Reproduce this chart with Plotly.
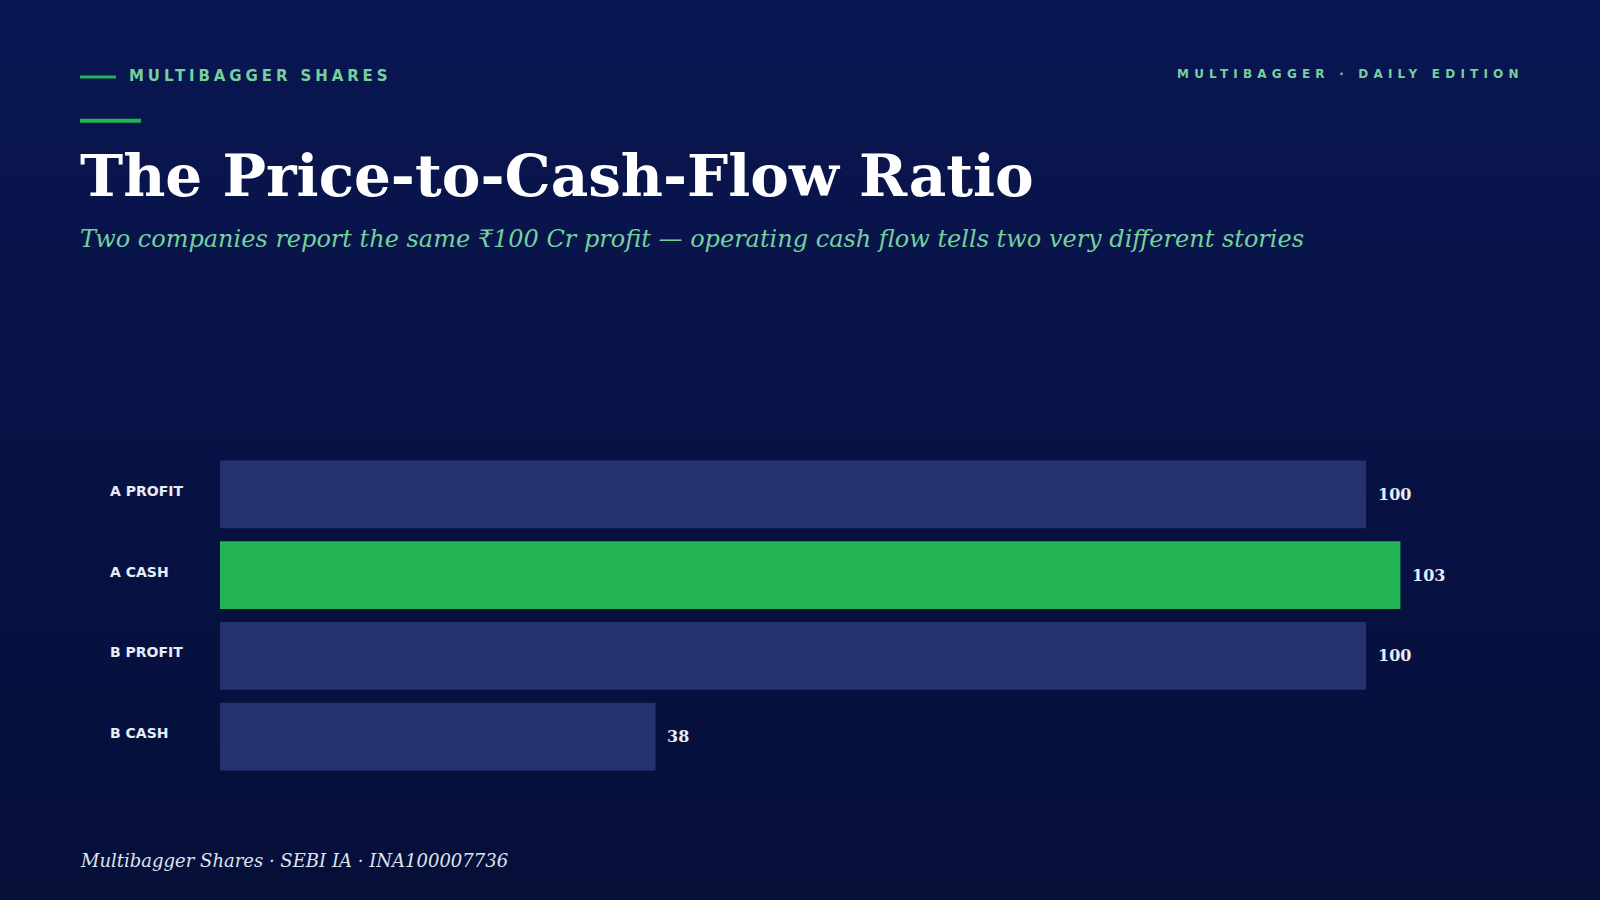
import base64
import plotly.graph_objects as go

# ---- data ----
categories = ["A PROFIT", "A CASH", "B PROFIT", "B CASH"]
values = [100, 103, 100, 38]
highlight = ["A CASH"]

title_text = "The Price-to-Cash-Flow Ratio"
subtitle_text = "Two companies report the same ₹100 Cr profit — operating cash flow tells two very different stories"
kicker_text = "MULTIBAGGER SHARES"
edition_text = "MULTIBAGGER · DAILY EDITION"
footer_text = "Multibagger Shares · SEBI IA · INA100007736"

# ---- styling ----
W, H = 1600, 900
L, R, T, B = 220, 80, 453.5, 122.5
PW, PH = W - L - R, H - T - B

BAR_DARK = "#263170"
BAR_GREEN = "#22b455"
GREEN_TXT = "#74d19c"
WHITE = "#ffffff"
LABEL = "#e8ecf7"


def px(x):
    return (x - L) / PW


def py(y):
    return (H - B - y) / PH


colors = [BAR_GREEN if c in highlight else BAR_DARK for c in categories]

fig = go.Figure()
fig.add_trace(go.Bar(
    x=values, y=categories, orientation="h",
    marker=dict(color=colors, line=dict(width=0)),
    hoverinfo="skip", showlegend=False,
))

annotations = []
# category labels
for c in categories:
    annotations.append(dict(
        x=px(108), xref="paper", y=c, yref="y", xanchor="left", yanchor="middle",
        text=c, showarrow=False, yshift=3.5,
        font=dict(family="DejaVu Sans", size=14, color=LABEL, weight="bold"),
    ))
# value labels
for c, v in zip(categories, values):
    annotations.append(dict(
        x=v, xref="x", y=c, yref="y", xanchor="left", yanchor="middle",
        text=str(v), showarrow=False, xshift=10,
        font=dict(family="DejaVu Serif", size=16, color=LABEL, weight="bold"),
    ))

# header texts
annotations += [
    dict(x=px(127), y=py(74.8), xref="paper", yref="paper", xanchor="left", yanchor="middle",
         align="left", showarrow=False,
         text=f'<span style="letter-spacing:3.9px">{kicker_text}</span>',
         font=dict(family="DejaVu Sans", size=15, color=GREEN_TXT, weight="bold")),
    dict(x=px(1174.5), y=py(72.2), xref="paper", yref="paper", xanchor="left", yanchor="middle",
         align="left", showarrow=False,
         text=f'<span style="letter-spacing:5.2px">{edition_text}</span>',
         font=dict(family="DejaVu Sans", size=12, color=GREEN_TXT, weight="bold")),
    dict(x=px(78), y=py(174.9), xref="paper", yref="paper", xanchor="left", yanchor="middle",
         align="left", showarrow=False, text=title_text,
         font=dict(family="DejaVu Serif", size=58, color=WHITE, weight="bold")),
    dict(x=px(78), y=py(237.8), xref="paper", yref="paper", xanchor="left", yanchor="middle",
         align="left", showarrow=False, text=subtitle_text,
         font=dict(family="DejaVu Serif", size=24, color=GREEN_TXT, style="italic")),
    dict(x=px(78), y=py(861.3), xref="paper", yref="paper", xanchor="left", yanchor="middle",
         align="left", showarrow=False, text=footer_text,
         font=dict(family="DejaVu Serif", size=18, color="#dfe3ef", style="italic")),
]

shapes = [
    dict(type="line", xref="paper", yref="paper", x0=px(80), x1=px(116), y0=py(75.3), y1=py(75.3),
         line=dict(color=BAR_GREEN, width=3)),
    dict(type="line", xref="paper", yref="paper", x0=px(80), x1=px(141), y0=py(119.3), y1=py(119.3),
         line=dict(color=BAR_GREEN, width=4)),
]

svg = (
    '<svg xmlns="http://www.w3.org/2000/svg" width="1600" height="900" preserveAspectRatio="none">'
    '<defs><linearGradient id="g" x1="0" y1="0" x2="0" y2="1">'
    '<stop offset="0" stop-color="#0a1652"/><stop offset="1" stop-color="#050f38"/>'
    '</linearGradient></defs><rect width="1600" height="900" fill="url(#g)"/></svg>'
)
bg_src = "data:image/svg+xml;base64," + base64.b64encode(svg.encode()).decode()

fig.update_layout(
    width=W, height=H,
    margin=dict(l=L, r=R, t=T, b=B, pad=0),
    paper_bgcolor="#0a1652",
    plot_bgcolor="rgba(0,0,0,0)",
    bargap=0.164,
    xaxis=dict(range=[0, PW / 11.46], visible=False, showgrid=False, zeroline=False, fixedrange=True),
    yaxis=dict(categoryorder="array", categoryarray=categories, autorange="reversed",
               showticklabels=False, showgrid=False, zeroline=False, showline=False, ticks="",
               fixedrange=True),
    annotations=annotations,
    shapes=shapes,
    images=[dict(source=bg_src, xref="paper", yref="paper", x=px(-4), y=py(-4),
                 sizex=(W + 8) / PW, sizey=(H + 8) / PH, sizing="stretch", xanchor="left", yanchor="top",
                 layer="below")],
    showlegend=False,
)

fig.write_html("out.html", config={"displayModeBar": False})
